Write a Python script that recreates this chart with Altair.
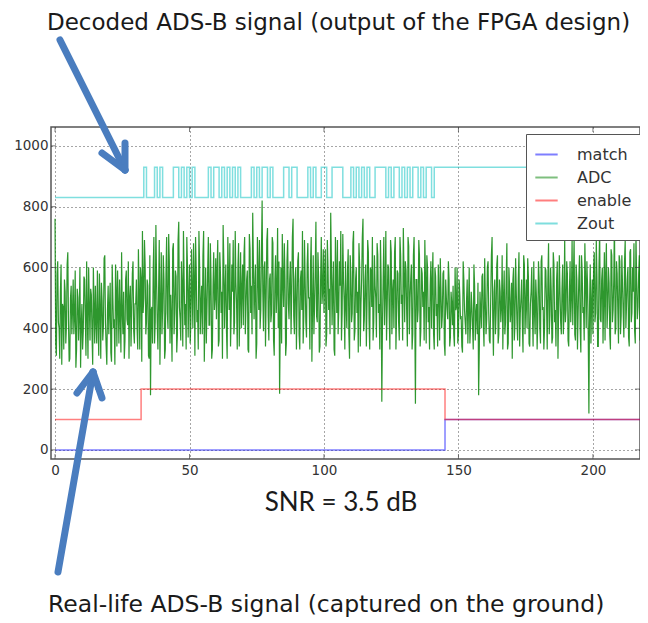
import altair as alt
import pandas as pd

# ---------------- data ----------------
series_names = ["match", "ADC", "enable", "Zout"]
series_colors = ["#0000ff", "#008000", "#ff0000", "#00bfbf"]

x_ticks = [0, 50, 100, 150, 200]
y_ticks = [0, 200, 400, 600, 800, 1000]

# ADC samples: set A at t = 0, 0.5, 1.0, ... 220
adc_step = 0.5
adc_values_a = [
    760, 310, 620, 400, 520, 280, 470, 560, 350, 610, 420, 300, 540, 460, 380, 590, 330, 500, 440, 270,
    480, 390, 560, 310, 450, 600, 360, 510, 280, 470, 540, 350, 430, 580, 300, 490, 410, 640, 340, 460,
    380, 550, 290, 500, 430, 610, 340, 470, 560, 320, 450, 520, 360, 590, 410, 300, 540, 450, 620, 350,
    480, 400, 660, 330, 560, 720, 500, 610, 420, 540, 300, 180, 470, 590, 350, 740, 420, 520, 280, 650,
    460, 560, 330, 700, 400, 620, 510, 290, 680, 450, 570, 380, 750, 430, 620, 340, 560, 480, 700, 370,
    610, 420, 520, 680, 310, 590, 460, 720, 380, 540, 640, 290, 600, 470, 700, 410, 560, 330, 650, 500,
    430, 690, 360, 580, 520, 740, 400, 610, 300, 560, 680, 450, 520, 380, 720, 480, 600, 340, 650, 530,
    410, 700, 470, 590, 320, 660, 540, 780, 430, 610, 350, 570, 690, 460, 820, 390, 620, 500, 730, 360,
    580, 450, 680, 310, 640, 520, 400, 185, 600, 710, 470, 560, 350, 690, 430, 620, 510, 760, 380, 600,
    480, 650, 330, 590, 720, 440, 560, 370, 680, 500, 610, 290, 640, 470, 750, 420, 570, 340, 700, 520,
    450, 660, 380, 600, 530, 780, 410, 620, 310, 570, 690, 460, 540, 360, 710, 490, 620, 400, 660, 300,
    580, 450, 720, 390, 600, 520, 680, 340, 560, 760, 430, 610, 480, 650, 330, 590, 700, 420, 540, 370,
    640, 480, 690, 158, 560, 410, 720, 470, 600, 330, 650, 520, 400, 700, 450, 580, 360, 640, 510, 730,
    420, 590, 340, 670, 500, 610, 380, 700, 152, 560, 460, 640, 390, 580, 520, 690, 350, 600, 470, 540,
    400, 650, 330, 570, 480, 610, 360, 520, 440, 590, 310, 500, 430, 560, 370, 480, 540, 340, 460, 600,
    380, 510, 440, 320, 560, 420, 490, 350, 600, 410, 470, 330, 540, 450, 380, 180, 520, 400, 580, 340,
    490, 430, 620, 360, 500, 700, 310, 560, 450, 640, 380, 520, 470, 330, 590, 420, 680, 350, 540, 460,
    300, 600, 410, 520, 360, 650, 450, 560, 320, 610, 480, 400, 570, 340, 520, 450, 620, 380, 500, 430,
    560, 350, 640, 470, 400, 590, 330, 680, 440, 520, 370, 610, 460, 560, 300, 640, 420, 530, 380, 700,
    460, 580, 340, 620, 500, 410, 700, 360, 560, 450, 640, 320, 590, 470, 680, 400, 540, 120, 610, 480,
    380, 650, 450, 560, 340, 720, 420, 600, 500, 360, 680, 470, 550, 330, 640, 460, 760, 400, 580, 350,
    620, 440, 540, 370, 690, 480, 600, 340, 660, 450, 520, 390, 710, 430, 580, 360, 640, 500, 450, 600,
    480,
]
# set B at t = 0.25, 0.75, ... 219.75
adc_values_b = [
    350, 580, 420, 300, 610, 480, 330, 520, 410, 650, 290, 500, 380, 560, 440, 270, 530, 360, 600, 410,
    330, 570, 440, 620, 300, 480, 530, 380, 600, 350, 420, 590, 310, 470, 550, 360, 630, 420, 280, 540,
    470, 320, 610, 400, 280, 520, 590, 350, 440, 650, 380, 300, 560, 430, 620, 500, 340, 580, 390, 480,
    560, 330, 520, 600, 290, 450, 690, 380, 560, 310, 640, 460, 350, 700, 420, 560, 330, 690, 470, 380,
    640, 300, 580, 450, 710, 350, 430, 660, 380, 590, 320, 690, 470, 360, 540, 720, 410, 330, 600, 510,
    350, 660, 400, 560, 700, 420, 330, 610, 480, 380, 720, 450, 350, 590, 410, 680, 300, 540, 460, 630,
    590, 340, 650, 450, 300, 620, 530, 390, 700, 460, 340, 610, 690, 420, 550, 330, 680, 500, 400, 610,
    640, 380, 560, 330, 710, 450, 380, 620, 530, 300, 700, 460, 400, 650, 520, 600, 340, 690, 440, 560,
    420, 700, 360, 560, 450, 730, 620, 420, 350, 550, 680, 310, 620, 480, 560, 380, 700, 440, 560, 330,
    620, 380, 560, 460, 350, 690, 420, 610, 500, 330, 700, 470, 380, 590, 440, 650, 320, 560, 480, 660,
    580, 340, 690, 460, 380, 620, 520, 330, 700, 450, 380, 620, 720, 450, 560, 330, 480, 590, 380, 640,
    420, 680, 360, 560, 450, 320, 610, 480, 700, 390, 560, 340, 690, 430, 600, 470, 360, 640, 500, 680,
    450, 330, 560, 420, 700, 520, 360, 610, 440, 690, 380, 560, 650, 330, 590, 420, 700, 480, 360, 580,
    620, 450, 700, 380, 560, 330, 640, 450, 560, 420, 690, 340, 600, 470, 360, 560, 640, 420, 330, 620,
    560, 380, 600, 440, 340, 520, 630, 400, 580, 350, 560, 460, 620, 340, 520, 410, 380, 600, 470, 350,
    560, 430, 340, 620, 460, 380, 560, 470, 350, 520, 400, 610, 360, 480, 550, 330, 460, 570, 410, 630,
    380, 600, 450, 350, 640, 430, 520, 380, 610, 350, 560, 420, 640, 500, 380, 560, 330, 600, 420, 550,
    560, 360, 630, 420, 560, 340, 500, 420, 640, 380, 560, 630, 350, 480, 600, 340, 460, 560, 330, 620,
    400, 620, 460, 330, 600, 480, 560, 380, 600, 350, 650, 420, 340, 620, 470, 520, 380, 610, 450, 420,
    620, 360, 520, 420, 690, 560, 380, 610, 330, 560, 400, 640, 450, 360, 560, 620, 380, 480, 350, 560,
    600, 420, 690, 340, 600, 430, 560, 350, 650, 580, 400, 600, 380, 660, 420, 560, 380, 620, 460, 640,
    380, 640, 450, 620, 400, 560, 370, 650, 420, 600, 680, 350, 560, 470, 640, 400, 560, 380, 600, 420,
]

# enable / match step signals (change points)
enable_x = [0, 32, 145, 220]
enable_y = [100, 200, 100, 100]
match_x = [0, 145, 220]
match_y = [0, 100, 100]

# Zout decoded bits (one bit per time unit, starting at t=33)
zout_start = 33
zout_low, zout_high = 830, 930
zout_bits = ("1000101000" "0110101010" "0000101101" "0101010000" "1010110100"
             "0011011000" "0101001100" "1111000101" "0101001111" "0101101010" "11010110")
zout_end = 220

# ---------------- tables ----------------
adc_t = [i * adc_step for i in range(len(adc_values_a))] + \
        [i * adc_step + adc_step / 2 for i in range(len(adc_values_b))]
adc_df = pd.DataFrame({"t": adc_t, "v": adc_values_a + adc_values_b, "s": "ADC"})
adc_df = adc_df.sort_values("t").reset_index(drop=True)
enable_df = pd.DataFrame({"t": enable_x, "v": enable_y, "s": "enable"})
match_df = pd.DataFrame({"t": match_x, "v": match_y, "s": "match"})
zt = [0] + [zout_start + i for i in range(len(zout_bits))] + [zout_start + len(zout_bits), zout_end]
zv = [zout_low] + [zout_high if b == "1" else zout_low for b in zout_bits] + [zout_high, zout_high]
zout_df = pd.DataFrame({"t": zt, "v": zv, "s": "Zout"})
xt_df = pd.DataFrame({"t": x_ticks})
yt_df = pd.DataFrame({"v": y_ticks})

W, H = 589, 332
xs = alt.Scale(domain=[-1.5, 217.5], nice=False, zero=False)
ys = alt.Scale(domain=[-30, 1062], nice=False, zero=False)
cs = alt.Scale(domain=series_names, range=series_colors)

axis_common = dict(title=None, grid=True, ticks=False, domain=False, format="d",
                   labelFontSize=13.5, labelColor="#333", labelFont="DejaVu Sans",
                   gridDash=[1, 3], gridColor="#000", gridOpacity=0.7, gridWidth=1)
xaxis = alt.Axis(values=x_ticks, labelPadding=4, **axis_common)
yaxis = alt.Axis(values=y_ticks, labelPadding=3, **axis_common)

legend = alt.Legend(title=None, orient="none", legendX=475, legendY=7,
                    symbolType="stroke", symbolStrokeWidth=2, symbolSize=500, symbolOpacity=0.5,
                    labelFontSize=16, labelFont="DejaVu Sans", labelColor="#333", labelOffset=18,
                    fillColor="white", strokeColor="#555", padding=8, rowPadding=2)


def sig(df, interp, width=1.5, opacity=0.5):
    m = alt.Chart(df).mark_line(interpolate=interp, strokeWidth=width, opacity=opacity, clip=True)
    return m.encode(
        x=alt.X("t:Q", scale=xs, axis=xaxis),
        y=alt.Y("v:Q", scale=ys, axis=yaxis),
        color=alt.Color("s:N", scale=cs, legend=legend),
    )


match_l = sig(match_df, "step-after")
adc_l = sig(adc_df, "linear", width=1.2, opacity=0.82)
enable_l = sig(enable_df, "step-after")
zout_l = sig(zout_df, "step-after")

# inward tick marks on all four sides (matplotlib classic style)
tick_layers = []
for ypos in [2.5, H - 2.5]:
    tick_layers.append(alt.Chart(xt_df).mark_tick(orient="vertical", size=5, thickness=1,
                                                  color="#444").encode(
        x=alt.X("t:Q", scale=xs, axis=xaxis), y=alt.value(ypos)))
for xpos in [2.5, W - 2.5]:
    tick_layers.append(alt.Chart(yt_df).mark_tick(orient="horizontal", size=5, thickness=1,
                                                  color="#444").encode(
        y=alt.Y("v:Q", scale=ys, axis=yaxis), x=alt.value(xpos)))

one = pd.DataFrame({"k": [0]})


def label(txt, x, y, size, font, align="left"):
    return alt.Chart(one).mark_text(text=txt, fontSize=size, font=font, align=align,
                                    baseline="middle", color="#1a1a1a").encode(
        x=alt.value(x), y=alt.value(y))


def seg(x1, y1, x2, y2):
    return alt.Chart(one).mark_rule(color="#4a7dbf", strokeWidth=7, strokeCap="round").encode(
        x=alt.value(x1), y=alt.value(y1), x2=alt.value(x2), y2=alt.value(y2))


annots = [
    label("Decoded ADS-B signal (output of the FPGA design)", -4, -104, 23, "DejaVu Sans"),
    label("Real-life ADS-B signal (captured on the ground)", -3, 478, 23.5, "DejaVu Sans"),
    label("SNR = 3.5 dB", 290, 376, 26, "Lato", align="center"),
    seg(9, -87, 74, 43), seg(74, 16, 74, 43), seg(51, 26, 74, 43),
    seg(7, 445, 42, 245), seg(26, 266, 42, 245), seg(51, 271, 42, 245),
]

chart = alt.layer(match_l, adc_l, enable_l, zout_l, *tick_layers, *annots).properties(
    width=W, height=H,
    autosize=alt.AutoSizeParams(type="none"),
    padding={"left": 43, "top": 119, "right": 0, "bottom": 175},
).configure_view(stroke="#555", strokeWidth=1.5)

chart.save("out.html", embed_options={"renderer": "svg", "actions": False})
